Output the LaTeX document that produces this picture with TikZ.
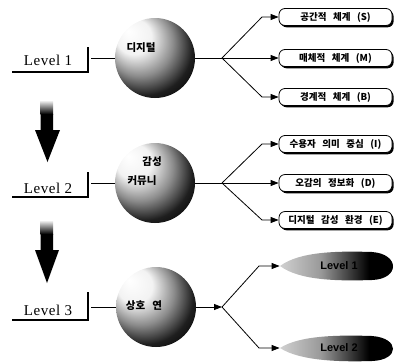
\documentclass[tikz,border=0pt]{standalone}
\usepackage{fontspec}
\setmainfont{Liberation Serif}
\newfontfamily\krfont{Noto Sans CJK KR}[WordSpace=3]
\newfontfamily\lsans{Liberation Sans}
\newfontfamily\lvlfont{Liberation Serif}[LetterSpace=4]
\usetikzlibrary{arrows.meta,shadows,shapes.geometric}

% sphere: bright highlight at the upper left, black towards the lower right
\pgfdeclareradialshading{sphsh}{\pgfpoint{-17bp}{17bp}}{%
  color(0bp)=(white); color(11bp)=(white!95!black); color(21bp)=(black!45);
  color(30bp)=(black!88); color(38bp)=(black); color(50bp)=(black)}
% leaf: light near the tip, black at the far end
\pgfdeclarehorizontalshading{leafsh}{100bp}{%
  color(0bp)=(black!25); color(20bp)=(white!88!black); color(42bp)=(black!40);
  color(62bp)=(black); color(100bp)=(black)}

\begin{document}
\begin{tikzpicture}[x=1pt,y=-1pt,line width=0.8pt,
  lvl/.style={font=\lvlfont\fontsize{15}{15}\selectfont,anchor=base},
  sphere/.style={circle,minimum size=80pt,inner sep=0pt,shading=sphsh},
  spheretext/.style={font=\krfont\bfseries\fontsize{10.5}{11}\selectfont,text=black,inner sep=0pt},
  tag/.style={draw,fill=white,rounded corners=6pt,minimum width=113pt,minimum height=17pt,
    inner sep=0pt,font=\krfont\bfseries\fontsize{9.5}{10}\selectfont,
    drop shadow={opacity=1,shadow xshift=1.6pt,shadow yshift=-1.8pt,fill=black}},
  leaftext/.style={ellipse,minimum width=118pt,inner sep=0pt,
    font=\lsans\bfseries\fontsize{11}{12}\selectfont},
  leafbody/.style={shading=leafsh},
  tip/.style={-{Triangle[length=8pt,width=6pt]}},
  bigarrow/.style={fill=black}
  ]
\useasboundingbox (0,0) rectangle (398,362);

% ---- level labels with their corner brackets
\foreach \n/\yb/\yl/\yt in {1/65/72/47, 2/193/197/172, 3/315/320/292}{
  \node[lvl] (l\n) at (48,\yb) {Level \n};
  \coordinate (ul\n) at (12,\yl);
  \coordinate (uc\n) at (88,\yl);
  \coordinate (ut\n) at (88,\yt);
  \draw[line width=1.1pt] (ul\n) -- (uc\n) -- (ut\n);
}

% ---- spheres
\node[sphere] (s1) at (155,58) {};
\node[sphere] (s2) at (155,183) {};
\node[sphere] (s3) at (156,307) {};
\node[spheretext] (t1) at (141,48) {디지털};
\node[spheretext] (t2a) at (152,162) {감성};
\node[spheretext] (t2b) at (142,181) {커뮤니};
\node[spheretext] (t3) at (144,306) {상호 연};

\coordinate (c1) at (91,58);
\coordinate (c2) at (91,183);
\coordinate (c3) at (91,307);
\draw (c1) -- (s1.west);
\draw (c2) -- (s2.west);
\draw (c3) -- (s3.west);

% ---- big downward arrows between levels
\shade[top color=white,bottom color=black] (40.5,100) rectangle (53,114);
\fill[bigarrow] (40.5,114) -- (53,114) -- (53,130) -- (60,130) -- (47.5,162)
  -- (35,130) -- (40.5,130) -- cycle;
\shade[top color=white,bottom color=black] (40.5,220) rectangle (53,234);
\fill[bigarrow] (40.5,234) -- (53,234) -- (53,250) -- (59,250) -- (47,283)
  -- (35,250) -- (40.5,250) -- cycle;

% ---- level 1 branches
\coordinate (j1) at (222,58);
\draw (s1.east) -- (j1);
\node[tag] (b11) at (335.5,17) {공간적 체계 (S)};
\node[tag] (b12) at (335.5,58) {매체적 체계 (M)};
\node[tag] (b13) at (335.5,97) {경계적 체계 (B)};
\draw[tip] (j1) -- (262,17) -- (b11.west);
\draw[tip] (j1) -- (b12.west);
\draw[tip] (j1) -- (262,97) -- (b13.west);

% ---- level 2 branches
\coordinate (j2) at (222,183);
\draw (s2.east) -- (j2);
\node[tag] (b21) at (335.5,144) {수용자 의미 중심 (I)};
\node[tag] (b22) at (335.5,183) {오감의 정보화 (D)};
\node[tag] (b23) at (335.5,220) {디지털 감성 환경 (E)};
\draw[tip] (j2) -- (262,144) -- (b21.west);
\draw[tip] (j2) -- (b22.west);
\draw[tip] (j2) -- (262,220) -- (b23.west);

% ---- level 3 branches: leaf-shaped bodies with their labels
\shade[leafbody] (280,266) .. controls (300,251) and (340,251) .. (372,252)
  .. controls (400,254) and (400,279) .. (372,280)
  .. controls (340,281) and (300,281) .. (280,266) -- cycle;
\shade[leafbody] (280,348) .. controls (300,335) and (340,335) .. (372,336)
  .. controls (400,338) and (400,360) .. (372,361)
  .. controls (340,362) and (300,361) .. (280,348) -- cycle;
\node[leaftext,minimum height=27pt] (e1) at (339,266) {Level 1};
\node[leaftext,minimum height=25pt] (e2) at (339,348) {Level 2};

\coordinate (j3) at (222,307);
\draw[tip] (s3.east) -- (j3);
\draw[tip] (j3) -- (259,266) -- (e1.west);
\draw[tip] (j3) -- (259,348) -- (e2.west);
\end{tikzpicture}
\end{document}
